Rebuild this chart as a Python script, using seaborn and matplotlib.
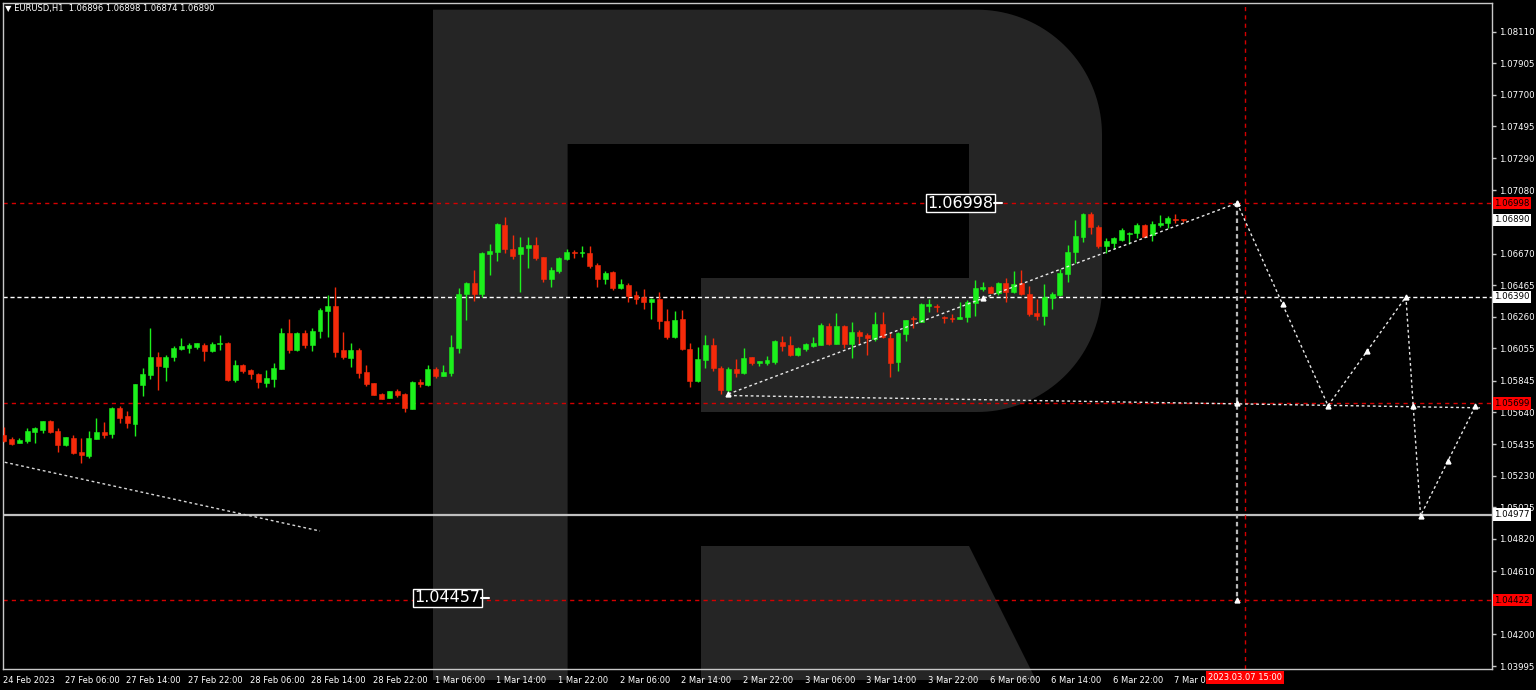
import matplotlib
matplotlib.use('Agg')
import numpy as np
import matplotlib.pyplot as plt
import seaborn as sns
from matplotlib.patches import Polygon
import matplotlib.transforms as mtransforms

# EURUSD H1 candles
opens = [1.05494, 1.05466, 1.05444, 1.05453, 1.05516, 1.05529, 1.05583, 1.05520, 1.05429, 1.05477,
         1.05384, 1.05360, 1.05466, 1.05516, 1.05498, 1.05667, 1.05617, 1.05565, 1.05816, 1.05885,
         1.06002, 1.05935, 1.05998, 1.06052, 1.06060, 1.06065, 1.06078, 1.06039, 1.06086, 1.06093,
         1.05851, 1.05948, 1.05916, 1.05890, 1.05829, 1.05857, 1.05922, 1.06153, 1.06043, 1.06153,
         1.06078, 1.06168, 1.06298, 1.06333, 1.06045, 1.05991, 1.06045, 1.05900, 1.05829, 1.05760,
         1.05736, 1.05779, 1.05760, 1.05665, 1.05836, 1.05816, 1.05922, 1.05879, 1.05896, 1.06060,
         1.06406, 1.06478, 1.06409, 1.06668, 1.06683, 1.06856, 1.06700, 1.06666, 1.06709, 1.06726,
         1.06646, 1.06504, 1.06560, 1.06636, 1.06683, 1.06672, 1.06677, 1.06597, 1.06504, 1.06551,
         1.06450, 1.06469, 1.06400, 1.06387, 1.06355, 1.06376, 1.06233, 1.06128, 1.06244, 1.06052,
         1.05846, 1.05980, 1.06078, 1.05926, 1.05786, 1.05922, 1.05894, 1.05998, 1.05963, 1.05963,
         1.05970, 1.06099, 1.06078, 1.06011, 1.06052, 1.06074, 1.06078, 1.06201, 1.06084, 1.06201,
         1.06084, 1.06164, 1.06143, 1.06117, 1.06214, 1.06121, 1.05965, 1.06149, 1.06255, 1.06229,
         1.06333, 1.06331, 1.06262, 1.06255, 1.06244, 1.06257, 1.06352, 1.06443, 1.06452, 1.06417,
         1.06478, 1.06424, 1.06478, 1.06406, 1.06283, 1.06268, 1.06380, 1.06400, 1.06536, 1.06679,
         1.06780, 1.06927, 1.06845, 1.06722, 1.06737, 1.06759, 1.06798, 1.06802, 1.06856, 1.06791,
         1.06856, 1.06867, 1.06897, 1.06896]
highs = [1.05548, 1.05479, 1.05474, 1.05537, 1.05546, 1.05585, 1.05591, 1.05537, 1.05483, 1.05494,
         1.05472, 1.05522, 1.05602, 1.05576, 1.05678, 1.05682, 1.05652, 1.05823, 1.05926, 1.06190,
         1.06034, 1.06011, 1.06071, 1.06121, 1.06088, 1.06093, 1.06088, 1.06099, 1.06143, 1.06099,
         1.05980, 1.05954, 1.05924, 1.05894, 1.05916, 1.05959, 1.06190, 1.06246, 1.06164, 1.06175,
         1.06186, 1.06315, 1.06402, 1.06452, 1.06164, 1.06088, 1.06056, 1.05946, 1.05833, 1.05768,
         1.05777, 1.05794, 1.05764, 1.05842, 1.05857, 1.05948, 1.05933, 1.05946, 1.06143, 1.06445,
         1.06489, 1.06564, 1.06683, 1.06733, 1.06867, 1.06910, 1.06791, 1.06776, 1.06776, 1.06776,
         1.06646, 1.06586, 1.06651, 1.06700, 1.06694, 1.06720, 1.06720, 1.06607, 1.06558, 1.06556,
         1.06504, 1.06478, 1.06430, 1.06439, 1.06385, 1.06421, 1.06309, 1.06298, 1.06305, 1.06089,
         1.06067, 1.06143, 1.06121, 1.05942, 1.05933, 1.05985, 1.06061, 1.06002, 1.05974, 1.06006,
         1.06110, 1.06136, 1.06138, 1.06067, 1.06089, 1.06132, 1.06218, 1.06223, 1.06283, 1.06208,
         1.06229, 1.06175, 1.06153, 1.06292, 1.06292, 1.06164, 1.06164, 1.06240, 1.06266, 1.06348,
         1.06376, 1.06344, 1.06266, 1.06279, 1.06359, 1.06370, 1.06499, 1.06486, 1.06460, 1.06484,
         1.06515, 1.06560, 1.06564, 1.06460, 1.06374, 1.06471, 1.06424, 1.06571, 1.06726, 1.06889,
         1.06936, 1.06943, 1.06856, 1.06770, 1.06776, 1.06834, 1.06813, 1.06867, 1.06860, 1.06882,
         1.06921, 1.06914, 1.06925, 1.06898]
lows = [1.05451, 1.05429, 1.05440, 1.05444, 1.05444, 1.05509, 1.05509, 1.05386, 1.05425, 1.05371,
        1.05314, 1.05343, 1.05466, 1.05474, 1.05472, 1.05574, 1.05541, 1.05490, 1.05747, 1.05859,
        1.05786, 1.05844, 1.05972, 1.06045, 1.06028, 1.06052, 1.05974, 1.06032, 1.06045, 1.05846,
        1.05838, 1.05898, 1.05857, 1.05801, 1.05805, 1.05803, 1.05922, 1.06024, 1.06039, 1.06060,
        1.06041, 1.06121, 1.06132, 1.06002, 1.05985, 1.05933, 1.05866, 1.05812, 1.05751, 1.05727,
        1.05736, 1.05740, 1.05643, 1.05660, 1.05803, 1.05812, 1.05864, 1.05879, 1.05879, 1.06028,
        1.06240, 1.06365, 1.06387, 1.06532, 1.06623, 1.06677, 1.06636, 1.06424, 1.06579, 1.06629,
        1.06489, 1.06452, 1.06547, 1.06629, 1.06644, 1.06646, 1.06575, 1.06456, 1.06473, 1.06434,
        1.06443, 1.06359, 1.06342, 1.06311, 1.06249, 1.06182, 1.06119, 1.06125, 1.06045, 1.05808,
        1.05840, 1.05926, 1.05911, 1.05760, 1.05754, 1.05872, 1.05890, 1.05948, 1.05944, 1.05946,
        1.05954, 1.06041, 1.06006, 1.06006, 1.06041, 1.06067, 1.06078, 1.06078, 1.06084, 1.06056,
        1.05991, 1.06084, 1.06013, 1.06106, 1.06121, 1.05872, 1.05911, 1.06106, 1.06190, 1.06225,
        1.06290, 1.06292, 1.06218, 1.06225, 1.06244, 1.06229, 1.06266, 1.06430, 1.06413, 1.06404,
        1.06359, 1.06417, 1.06402, 1.06266, 1.06240, 1.06210, 1.06309, 1.06395, 1.06489, 1.06608,
        1.06748, 1.06796, 1.06705, 1.06672, 1.06700, 1.06754, 1.06733, 1.06770, 1.06776, 1.06752,
        1.06845, 1.06834, 1.06871, 1.06874]
closes = [1.05457, 1.05436, 1.05461, 1.05520, 1.05539, 1.05585, 1.05516, 1.05431, 1.05479, 1.05379,
          1.05366, 1.05472, 1.05513, 1.05496, 1.05667, 1.05606, 1.05574, 1.05823, 1.05890, 1.06002,
          1.05944, 1.06002, 1.06060, 1.06071, 1.06078, 1.06088, 1.06039, 1.06084, 1.06093, 1.05851,
          1.05948, 1.05911, 1.05892, 1.05836, 1.05864, 1.05928, 1.06153, 1.06047, 1.06155, 1.06078,
          1.06171, 1.06305, 1.06333, 1.06034, 1.05998, 1.06045, 1.05898, 1.05823, 1.05756, 1.05730,
          1.05777, 1.05753, 1.05667, 1.05836, 1.05823, 1.05922, 1.05879, 1.05903, 1.06065, 1.06409,
          1.06478, 1.06409, 1.06672, 1.06690, 1.06860, 1.06703, 1.06655, 1.06716, 1.06726, 1.06640,
          1.06504, 1.06564, 1.06640, 1.06683, 1.06672, 1.06683, 1.06592, 1.06504, 1.06547, 1.06450,
          1.06471, 1.06398, 1.06378, 1.06359, 1.06376, 1.06233, 1.06132, 1.06240, 1.06050, 1.05846,
          1.05985, 1.06078, 1.05931, 1.05786, 1.05922, 1.05894, 1.05991, 1.05963, 1.05974, 1.05980,
          1.06104, 1.06074, 1.06013, 1.06056, 1.06082, 1.06089, 1.06208, 1.06082, 1.06201, 1.06084,
          1.06160, 1.06138, 1.06121, 1.06214, 1.06132, 1.05963, 1.06153, 1.06240, 1.06244, 1.06342,
          1.06342, 1.06322, 1.06251, 1.06244, 1.06262, 1.06359, 1.06445, 1.06456, 1.06417, 1.06480,
          1.06424, 1.06473, 1.06406, 1.06277, 1.06268, 1.06387, 1.06411, 1.06543, 1.06679, 1.06785,
          1.06927, 1.06841, 1.06722, 1.06755, 1.06770, 1.06822, 1.06806, 1.06856, 1.06780, 1.06860,
          1.06871, 1.06904, 1.06888, 1.06890]

# axis labels
time_labels = ['24 Feb 2023', '27 Feb 06:00', '27 Feb 14:00', '27 Feb 22:00', '28 Feb 06:00',
               '28 Feb 14:00', '28 Feb 22:00', '1 Mar 06:00', '1 Mar 14:00', '1 Mar 22:00',
               '2 Mar 06:00', '2 Mar 14:00', '2 Mar 22:00', '3 Mar 06:00', '3 Mar 14:00',
               '3 Mar 22:00', '6 Mar 06:00', '6 Mar 14:00', '6 Mar 22:00', '7 Mar 06:00']
price_ticks = [1.08110, 1.07905, 1.07700, 1.07495, 1.07290, 1.07080, 1.06670, 1.06465, 1.06260,
               1.06055, 1.05845, 1.05640, 1.05435, 1.05230, 1.05025, 1.04820, 1.04610, 1.04200, 1.03995]

# horizontal levels
red_levels = [1.06998, 1.05699, 1.04422]
white_levels = [1.06890, 1.06390, 1.04977]

# drawn lines (bar index, price)
down_line_x = [0.1, 41]
down_line_y = [1.05317, 1.04871]
trend_x = [94, 127, 160]
trend_y = [1.05760, 1.06380, 1.06998]
base_x = [94, 191.5]
base_y = [1.05750, 1.05670]
fc_x = [160, 171.8, 181.9, 183.8, 190.9]
fc_y = [1.06998, 1.05684, 1.06390, 1.04970, 1.05680]
drop_x = [160, 160, 160]
drop_y = [1.06998, 1.05699, 1.04422]

GREEN = '#1cf01c'
RED = '#f52a0a'
LINE_RED = '#d40000'
FRAME = '#c8c8c8'

sns.set_theme(style='dark', rc={'axes.facecolor': 'black', 'figure.facecolor': 'black'})
plt.rcParams['font.family'] = ['DejaVu Sans']

fig = plt.figure(figsize=(15.36, 6.9), dpi=100)
fig.patch.set_facecolor('black')

# background logo in pixel coordinates
bg = fig.add_axes([0, 0, 1, 1], zorder=0)
bg.set_xlim(0, 1536)
bg.set_ylim(690, 0)
bg.axis('off')
bg.set_facecolor('black')


def arc(cx, cy, r, a0, a1, n=40):
    t = np.radians(np.linspace(a0, a1, n))
    return list(zip(cx + r * np.cos(t), cy + r * np.sin(t)))


bowl = [(433, 9.7)] + arc(977, 134.7, 125, -90, 0) + arc(977, 287, 125, 0, 90) + \
       [(701, 412), (701, 278), (969, 278), (969, 144), (567.6, 144), (567.6, 680), (433, 680)]
leg = [(701, 546), (969, 546), (1036, 680), (701, 680)]
for pts in (bowl, leg):
    bg.add_patch(Polygon(pts, closed=True, fc='#252525', ec='none'))

# main price chart
ax = fig.add_axes([3 / 1536, 21 / 690, 1489 / 1536, 666 / 690], zorder=1)
ax.set_facecolor('none')
ax.set_xlim(-0.13, 193.07)
ax.set_ylim(1.03976, 1.08296)
ax.grid(False)

o = np.array(opens)
h = np.array(highs)
l = np.array(lows)
c = np.array(closes)
idx = np.arange(len(o))
up = c >= o
cols = np.where(up, GREEN, RED)
body = np.abs(c - o)
bh = np.maximum(body, 0.00005)
bottom = np.minimum(o, c) - (bh - body) / 2

ax.vlines(idx, l, h, colors=cols, lw=1, zorder=4)
ax.bar(idx, bh, bottom=bottom, width=0.64, color=cols, edgecolor=cols, lw=0.4, zorder=5)

# horizontal / vertical levels
for lv in red_levels:
    ax.axhline(lv, color=LINE_RED, lw=1, ls=(0, (3, 3)), zorder=2)
ax.axhline(white_levels[1], color='white', lw=1, ls=(0, (3, 2)), zorder=2)
ax.axhline(white_levels[2], color='#c0c0c0', lw=1.6, zorder=2)
ax.axvline(161, color=LINE_RED, lw=1, ls=(0, (3, 3)), zorder=2)

# analysis lines
dash = (0, (2, 2))
sns.lineplot(x=down_line_x, y=down_line_y, ax=ax, color='#d8d8d8', lw=1, ls=dash, estimator=None, sort=False, zorder=6)
sns.lineplot(x=trend_x, y=trend_y, ax=ax, color='#e8e8e8', lw=1, ls=dash, estimator=None, sort=False, zorder=6)
sns.lineplot(x=base_x, y=base_y, ax=ax, color='#e8e8e8', lw=1, ls=dash, estimator=None, sort=False, zorder=6)
sns.lineplot(x=fc_x, y=fc_y, ax=ax, color='#e8e8e8', lw=1, ls=dash, estimator=None, sort=False, zorder=6)
ax.plot(drop_x, drop_y, color='#b8b8b8', lw=1.6, ls=(0, (2, 1.5)), zorder=6)

# arrow markers: vertices and midpoints of the forecast
mid_x = [(a + b) / 2 for a, b in zip(fc_x[:-1], fc_x[1:])]
mid_y = [(a + b) / 2 for a, b in zip(fc_y[:-1], fc_y[1:])]
mk = dict(marker='^', ms=3.5, color='white', ls='none', zorder=7)
ax.plot(fc_x + mid_x + drop_x + [trend_x[0], trend_x[1]],
        fc_y + mid_y + drop_y + [trend_y[0], trend_y[1]], **mk)

# boxed price labels on the chart
for xi, yv, txt in [(128.4, 1.06998, '1.06998'), (61.8, 1.04437, '1.04457')]:
    ax.text(xi, yv, txt, ha='right', va='center', color='white', fontsize=11.5, zorder=8,
            bbox=dict(boxstyle='square,pad=0.08', fc='black', ec='white', lw=1))
    ax.plot([xi + 0.1, xi + 1.1], [yv, yv], color='white', lw=1.5, zorder=8)

# axes styling
for s in ax.spines.values():
    s.set_color(FRAME)
    s.set_linewidth(1)
ax.yaxis.tick_right()
ax.set_yticks(price_ticks)
ax.set_yticklabels([f'{p:.5f}' for p in price_ticks])
ax.set_xticks(np.arange(len(time_labels)) * 8)
ax.set_xticklabels(time_labels, ha='left')
ax.tick_params(axis='y', colors='white', labelsize=6.2, length=3, width=1, pad=2, direction='out', color=FRAME)
ax.tick_params(axis='x', colors='white', labelsize=6.0, length=3, width=1, pad=2, direction='out', color=FRAME)
for t in ax.get_xticklabels():
    t.set_transform(t.get_transform() + mtransforms.ScaledTranslation(-1 / 100, 0, fig.dpi_scale_trans))

# right-axis price tags
tag = mtransforms.blended_transform_factory(ax.transAxes, ax.transData)
for lv in red_levels:
    ax.text(1.0015, lv, f'{lv:.5f}', transform=tag, ha='left', va='center', fontsize=6.2, color='black',
            bbox=dict(boxstyle='square,pad=0.2', fc='#ff0000', ec='none'), zorder=9, clip_on=False)
for lv in white_levels:
    ax.text(1.0015, lv, f'{lv:.5f}', transform=tag, ha='left', va='center', fontsize=6.2, color='black',
            bbox=dict(boxstyle='square,pad=0.2', fc='white', ec='none'), zorder=9, clip_on=False)

# time tag at the vertical line
ttag = mtransforms.blended_transform_factory(ax.transData, ax.transAxes)
ax.text(161, -0.006, '2023.03.07 15:00', transform=ttag, ha='center', va='top', fontsize=6.0, color='white',
        bbox=dict(boxstyle='square,pad=0.2', fc='#ff0000', ec='none'), zorder=9, clip_on=False)

fig.text(5 / 1536, 1 - 9 / 690, '\u25bc EURUSD,H1  1.06896 1.06898 1.06874 1.06890', color='white',
         fontsize=6.0, va='center', ha='left')

fig.savefig('out.png', dpi=100, facecolor='black')
